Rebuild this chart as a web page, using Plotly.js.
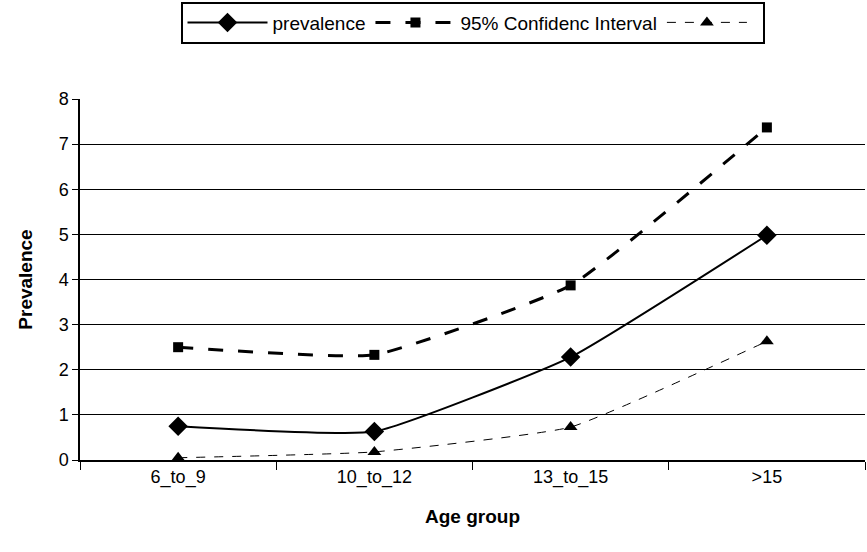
<!DOCTYPE html>
<html>
<head>
<meta charset="utf-8">
<script src="https://cdn.plot.ly/plotly-3.0.1.min.js"></script>
<style>body{margin:0;background:#fff}</style>
</head>
<body>
<div id="myChart" style="width:867px;height:552px"></div>
<script>
var ageGroups = ["6_to_9", "10_to_12", "13_to_15", ">15"];
var prevalence = [0.75, 0.63, 2.28, 4.98];
var upperCI = [2.5, 2.33, 3.87, 7.37];
var lowerCI = [0.05, 0.18, 0.73, 2.63];

var trace1 = {
  x: ageGroups, y: prevalence, name: "prevalence",
  mode: "lines+markers", type: "scatter",
  line: { color: "#000", width: 2, shape: "spline", smoothing: 0.4 },
  marker: { symbol: "diamond", size: 15, color: "#000" }
};
var trace2 = {
  x: ageGroups, y: upperCI, name: "95% Confidenc Interval",
  mode: "lines+markers", type: "scatter",
  line: { color: "#000", width: 3, dash: "longdash", shape: "spline", smoothing: 0.4 },
  marker: { symbol: "square", size: 10, color: "#000" }
};
var trace3 = {
  x: ageGroups, y: lowerCI, name: " ",
  mode: "lines+markers", type: "scatter",
  line: { color: "#000", width: 1, dash: "dash", shape: "spline", smoothing: 0.4 },
  marker: { symbol: "triangle-up", size: 12, color: "#000" }
};

var layout = {
  width: 867, height: 552,
  margin: { l: 80, r: 2, t: 96, b: 92 },
  paper_bgcolor: "#fff", plot_bgcolor: "#fff",
  font: { family: "Liberation Sans, Arial", size: 18, color: "#000" },
  showlegend: true,
  legend: {
    orientation: "h", x: 0.5, xanchor: "center", y: 1.27, yanchor: "top",
    bordercolor: "#000", borderwidth: 2, font: { size: 19 }, itemwidth: 80
  },
  xaxis: {
    title: { text: "<b>Age group</b>", font: { size: 19 }, standoff: 22 },
    range: [-0.5, 3.5],
    showline: true, linecolor: "#000", linewidth: 1.5,
    ticks: "outside", ticklen: 8, tickcolor: "#000",
    tickson: "boundaries", showgrid: false
  },
  yaxis: {
    title: { text: "<b>Prevalence</b>", font: { size: 19 } },
    range: [0, 8], dtick: 1, showgrid: true, gridcolor: "#000", gridwidth: 1,
    showline: true, linecolor: "#000", linewidth: 1.5,
    ticks: "outside", ticklen: 6, tickcolor: "#000", zeroline: false
  }
};
Plotly.newPlot("myChart", [trace1, trace2, trace3], layout, { displayModeBar: false });
</script>
</body>
</html>
